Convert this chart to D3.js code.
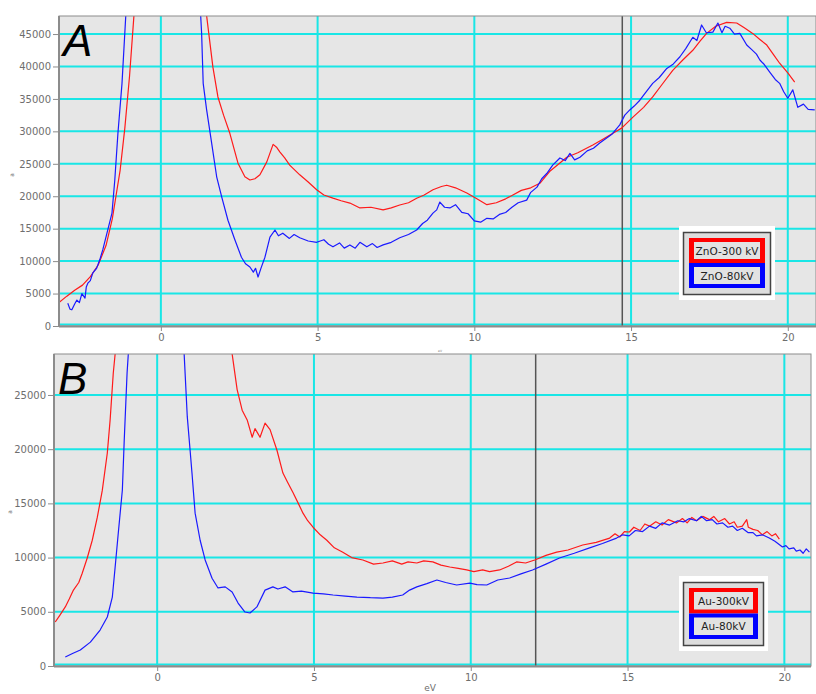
<!DOCTYPE html>
<html><head><meta charset="utf-8">
<script src="https://cdn.jsdelivr.net/npm/d3@7"></script>
<style>body{margin:0;background:#fff}svg{display:block}</style>
</head><body>
<script>
// ---------- DATA ----------
const xTicks = [0, 5, 10, 15, 20];
const yTicksA = [0,5000,10000,15000,20000,25000,30000,35000,40000,45000];
const yTicksB = [0,5000,10000,15000,20000,25000];

const legendA = ["ZnO-300 kV", "ZnO-80kV"];
const legendB = ["Au-300kV", "Au-80kV"];

// Panel A, ZnO 300 kV (energy eV, intensity)
const aRedE = [-3.25,-3.0,-2.75,-2.5,-2.25,-2.0,-1.75,-1.55,-1.4,-1.3,-1.15,-1.0,-0.86,-0.5,0.3,1.0,1.46,1.66,1.82,2.0,2.2,2.46,2.68,2.84,3.0,3.16,3.38,3.58,3.7,3.8,3.95,4.11,4.43,4.7,4.97,5.2,5.49,5.75,6.03,6.35,6.7,7.09,7.35,7.62,7.9,8.16,8.4,8.68,8.95,9.12,9.4,9.76,10.08,10.4,10.7,11.0,11.23,11.5,11.8,12.09,12.4,12.7,12.95,13.3,13.78,14.1,14.42,14.7,15.06,15.4,15.69,16.0,16.33,16.65,16.97,17.2,17.41,17.7,18.05,18.37,18.6,18.88,19.1,19.33,19.55,19.74,20.0,20.22];
const aRedV = [3600,4600,5500,6300,7600,9400,12400,16500,21000,24000,30500,38500,47800,70000,120000,80000,47800,39900,35300,32500,29700,25100,23000,22500,22700,23300,25300,28000,27500,26800,25900,24800,23300,22200,21000,20200,19700,19300,18950,18200,18300,17900,18200,18650,19000,19700,20200,21000,21500,21700,21300,20500,19600,18700,19000,19600,20200,20900,21300,22000,23800,25000,26000,26700,27900,28800,29700,30500,32200,33700,35300,37300,39400,41000,42500,43900,45100,46200,46800,46700,46000,45100,44200,43300,41800,40500,39000,37600];

// Panel A, ZnO 80 kV
const aBlueE = [-2.97,-2.9,-2.84,-2.75,-2.68,-2.6,-2.52,-2.42,-2.38,-2.33,-2.25,-2.17,-2.05,-1.95,-1.85,-1.72,-1.56,-1.47,-1.37,-1.24,-1.12,-0.8,0.2,1.0,1.27,1.30,1.35,1.46,1.62,1.78,1.94,2.14,2.36,2.57,2.7,2.84,2.95,3.02,3.10,3.2,3.32,3.48,3.64,3.75,3.89,4.1,4.25,4.43,4.7,4.97,5.2,5.35,5.49,5.7,5.85,6.03,6.2,6.35,6.57,6.75,6.9,7.09,7.35,7.62,7.9,8.16,8.35,8.5,8.68,8.8,8.9,9.05,9.22,9.4,9.6,9.8,10.0,10.2,10.4,10.6,10.8,11.0,11.2,11.4,11.67,11.8,12.0,12.15,12.31,12.5,12.73,12.9,13.05,13.2,13.37,13.6,13.8,14.0,14.2,14.4,14.64,14.8,14.96,15.1,15.28,15.45,15.69,15.9,16.14,16.35,16.56,16.75,16.97,17.1,17.25,17.4,17.61,17.77,17.9,18.0,18.15,18.3,18.47,18.69,18.85,19.0,19.11,19.25,19.43,19.6,19.74,19.87,20.0,20.16,20.32,20.5,20.65,20.86];
const aBlueV = [3500,2600,2500,3400,4000,3600,5000,4300,6000,6600,7000,8200,8900,10200,11800,14300,17400,22500,29700,37400,47800,80000,130000,70000,47800,45100,37400,33300,28200,23000,19900,16300,13300,10600,9600,9100,8300,8900,7550,9000,10600,13700,14800,13900,14300,13500,14100,13600,13100,12900,13300,12600,12200,12800,12000,12500,12000,12900,12200,12700,12100,12500,12900,13600,14100,14800,15800,16300,17400,17900,19100,18300,18200,18700,17500,17300,16200,16000,16600,16500,17200,17500,18300,19000,19400,20600,21400,22700,23500,24800,25900,25500,26600,25600,26000,27000,27400,28200,28900,29600,31000,32500,33300,33900,34800,35900,37400,38300,39700,40400,41500,42800,44500,44000,46400,45200,45300,46700,45200,46200,45900,45000,45100,43300,42600,41900,41000,40300,39100,38000,37400,36100,35100,36400,33700,34200,33400,33300];

// Panel B, Au 300 kV
const bRedE = [-3.25,-3.1,-2.93,-2.8,-2.67,-2.5,-2.39,-2.23,-2.07,-1.91,-1.75,-1.59,-1.5,-1.4,-1.34,-1.0,0.5,2.0,2.39,2.55,2.71,2.87,3.03,3.12,3.2,3.28,3.44,3.6,3.82,4.01,4.15,4.33,4.5,4.65,4.8,4.97,5.2,5.41,5.65,5.92,6.2,6.56,6.9,7.2,7.5,7.8,8.0,8.28,8.5,8.79,9.05,9.33,9.6,9.87,10.1,10.38,10.6,10.92,11.2,11.46,11.75,12.04,12.4,12.74,13.1,13.57,14.0,14.43,14.6,14.75,14.9,15.06,15.2,15.4,15.55,15.7,15.9,16.1,16.3,16.56,16.75,16.9,17.05,17.2,17.4,17.61,17.75,17.9,18.1,18.25,18.4,18.5,18.66,18.8,18.85,19.0,19.15,19.3,19.45,19.6,19.72,19.84];
const bRedV = [4060,4700,5450,6200,7000,7700,8560,9960,11600,13700,16200,19650,22700,27000,28800,45000,100000,45000,28800,25500,23600,22700,21100,21900,21500,21100,22400,21800,19900,17800,17000,16000,15000,14100,13400,12800,12100,11600,10900,10500,10000,9780,9400,9500,9700,9400,9600,9500,9700,9600,9300,9130,9000,8860,8700,8860,8700,8860,9200,9600,9500,9780,10200,10500,10700,11160,11400,11800,12200,11900,12400,12360,12800,12500,13100,12900,13300,13000,13500,13200,13600,13200,13700,13400,13800,13500,13800,13300,13600,13100,13300,12800,12900,13500,12800,12600,12500,12100,12400,12000,12200,11700];

// Panel B, Au 80 kV
const bBlueE = [-2.93,-2.7,-2.45,-2.13,-1.82,-1.59,-1.43,-1.34,-1.24,-1.11,-1.05,-0.96,-0.92,-0.5,0.0,0.5,0.86,0.96,1.05,1.11,1.21,1.37,1.53,1.75,1.94,2.17,2.39,2.58,2.8,2.96,3.18,3.44,3.69,3.85,4.08,4.33,4.6,4.97,5.3,5.61,6.0,6.37,6.8,7.2,7.5,7.83,8.05,8.28,8.6,8.92,9.2,9.55,9.97,10.2,10.51,10.86,11.24,11.6,11.97,12.4,12.83,13.3,13.79,14.2,14.65,14.85,15.05,15.25,15.48,15.7,15.9,16.1,16.34,16.6,16.8,16.97,17.2,17.35,17.52,17.7,17.85,18.03,18.2,18.35,18.5,18.66,18.85,19.0,19.11,19.3,19.52,19.7,19.94,20.05,20.15,20.3,20.38,20.5,20.6,20.7,20.8];
const bBlueV = [830,1150,1470,2200,3320,4520,6360,9130,12270,16240,20850,27000,28800,60000,100000,60000,28800,23000,19900,17800,14100,11600,9780,8100,7200,7300,6830,5810,4980,4890,5450,7000,7300,7100,7300,6830,6900,6730,6650,6550,6450,6360,6300,6270,6350,6550,7000,7300,7600,7930,7700,7470,7650,7500,7470,7930,8120,8500,8860,9400,9960,10400,10900,11300,11800,12100,12000,12500,12400,12900,12700,13200,13000,13400,13300,13600,13400,13800,13400,13500,13100,13200,12800,12900,12500,12700,12300,12300,12000,12100,11800,11500,10980,11100,10800,10900,10600,10700,10400,10800,10500];

// ---------- DRAW ----------
const W = 816, H = 694;
const svg = d3.select("body").append("svg").attr("width", W).attr("height", H);
const GRID = "#19e6e6", BG = "#e6e6e6", FRAME = "#8c8c8c", TICKTXT = "#6e6e6e";
const FONT = "DejaVu Sans, Verdana, sans-serif";

function panel(cfg) {
  const x = d3.scaleLinear().domain(cfg.xd).range([cfg.l, cfg.r]);
  const y = d3.scaleLinear().domain(cfg.yd).range([cfg.b, cfg.t]);
  const g = svg.append("g");
  const id = "clip" + cfg.name;
  svg.append("clipPath").attr("id", id).append("rect")
    .attr("x", cfg.l).attr("y", cfg.t).attr("width", cfg.r - cfg.l).attr("height", cfg.b - cfg.t);
  g.append("rect").attr("x", cfg.l).attr("y", cfg.t).attr("width", cfg.r - cfg.l).attr("height", cfg.b - cfg.t)
    .attr("fill", BG);
  // grid
  g.selectAll(".gy").data(cfg.yTicks.filter(v => v > 0)).join("line")
    .attr("x1", cfg.l).attr("x2", cfg.r).attr("y1", d => y(d)).attr("y2", d => y(d))
    .attr("stroke", GRID).attr("stroke-width", 2);
  g.selectAll(".gx").data(xTicks).join("line")
    .attr("x1", d => x(d)).attr("x2", d => x(d)).attr("y1", cfg.t).attr("y2", cfg.b)
    .attr("stroke", GRID).attr("stroke-width", 2);
  g.append("line").attr("x1", cfg.l).attr("x2", cfg.r).attr("y1", y(0) - 1.5).attr("y2", y(0) - 1.5)
    .attr("stroke", GRID).attr("stroke-width", 2);
  // marker line
  g.append("line").attr("x1", x(cfg.marker)).attr("x2", x(cfg.marker)).attr("y1", cfg.t).attr("y2", cfg.b)
    .attr("stroke", "#555").attr("stroke-width", 1.5);
  // curves
  const line = d3.line().x(d => x(d[0])).y(d => y(d[1]));
  const lg = g.append("g").attr("clip-path", `url(#${id})`);
  cfg.series.forEach(s => {
    lg.append("path").datum(d3.zip(s.e, s.v)).attr("d", line)
      .attr("fill", "none").attr("stroke", s.c).attr("stroke-width", 1.2).attr("stroke-linejoin", "round");
  });
  // frame
  g.append("rect").attr("x", cfg.l).attr("y", cfg.t).attr("width", cfg.r - cfg.l).attr("height", cfg.b - cfg.t)
    .attr("fill", "none").attr("stroke", FRAME).attr("stroke-width", 1);
  g.append("line").attr("x1", cfg.l).attr("x2", cfg.l).attr("y1", cfg.t).attr("y2", cfg.b + 1)
    .attr("stroke", FRAME).attr("stroke-width", 2);
  g.append("line").attr("x1", cfg.l).attr("x2", cfg.r).attr("y1", cfg.b + 0.5).attr("y2", cfg.b + 0.5)
    .attr("stroke", FRAME).attr("stroke-width", 2);
  // axes
  const ay = g.append("g").attr("transform", `translate(${cfg.l - 1},0)`)
    .call(d3.axisLeft(y).tickValues(cfg.yTicks).tickSize(5).tickPadding(2).tickFormat(d3.format("d")));
  const ax = g.append("g").attr("transform", `translate(0,${cfg.b + 1})`)
    .call(d3.axisBottom(x).tickValues(xTicks).tickSize(4).tickPadding(3).tickFormat(d3.format("d")));
  [ay, ax].forEach(a => {
    a.select(".domain").remove();
    a.selectAll(".tick line").attr("stroke", FRAME);
    a.selectAll(".tick text").attr("fill", TICKTXT).attr("font-family", FONT).attr("font-size", 10);
  });
  // axis titles (tiny, as in the reference)
  g.append("text").attr("x", cfg.xlabX).attr("y", cfg.xlabY).attr("text-anchor", "middle")
    .attr("font-family", FONT).attr("font-size", cfg.xlabSize).attr("fill", TICKTXT).text(cfg.xlab);
  g.append("text").attr("transform", `translate(${cfg.ylabX},${cfg.ylabY}) rotate(-90)`).attr("text-anchor", "middle")
    .attr("font-family", FONT).attr("font-size", 6).attr("fill", TICKTXT).text("a");
  // panel letter
  g.append("text").attr("x", cfg.l + 4).attr("y", cfg.t + 40).attr("font-family", "Liberation Sans, Arial, sans-serif")
    .attr("font-style", "italic").attr("font-size", 44).attr("fill", "#000").text(cfg.name);
  // legend
  const L = cfg.leg;
  g.append("rect").attr("x", L.x).attr("y", L.y).attr("width", L.w).attr("height", L.h).attr("fill", "#fff");
  g.append("rect").attr("x", L.x + 4.5).attr("y", L.y + 6.5).attr("width", L.w - 9).attr("height", L.h - 12)
    .attr("fill", "#ddd").attr("stroke", "#444").attr("stroke-width", 1.5);
  const bh = (L.h - 24) / 2;
  cfg.legText.forEach((t, i) => {
    const bx = L.x + 10, by = L.y + 12 + i * bh, bw = L.w - 20;
    g.append("rect").attr("x", bx).attr("y", by).attr("width", bw).attr("height", bh)
      .attr("fill", cfg.series[i].lc);
    g.append("rect").attr("x", bx + 5).attr("y", by + 4).attr("width", bw - 10).attr("height", bh - 8)
      .attr("fill", "#e2e2e2");
    g.append("text").attr("x", bx + bw / 2).attr("y", by + bh / 2 + 4).attr("text-anchor", "middle")
      .attr("font-family", FONT).attr("font-size", 10.5).attr("fill", "#222").text(t);
  });
}

panel({
  name: "A", l: 59, r: 816, t: 16, b: 326, xd: [-3.25, 20.9], yd: [0, 47780], yTicks: yTicksA,
  marker: 14.72, xlab: "eV", xlabX: 440, xlabY: 352, xlabSize: 3, ylabX: 14, ylabY: 175,
  series: [{e: aRedE, v: aRedV, c: "#ff1a1a", lc: "#ff0000"}, {e: aBlueE, v: aBlueV, c: "#1a1aff", lc: "#0000ff"}],
  legText: legendA, leg: {x: 679, y: 226, w: 96, h: 74}
});
panel({
  name: "B", l: 54, r: 811, t: 354, b: 666, xd: [-3.29, 20.85], yd: [0, 28780], yTicks: yTicksB,
  marker: 12.07, xlab: "eV", xlabX: 430, xlabY: 691, xlabSize: 9, ylabX: 12, ylabY: 512,
  series: [{e: bRedE, v: bRedV, c: "#ff1a1a", lc: "#ff0000"}, {e: bBlueE, v: bBlueV, c: "#1a1aff", lc: "#0000ff"}],
  legText: legendB, leg: {x: 679, y: 576, w: 89, h: 75}
});
</script>
</body></html>
